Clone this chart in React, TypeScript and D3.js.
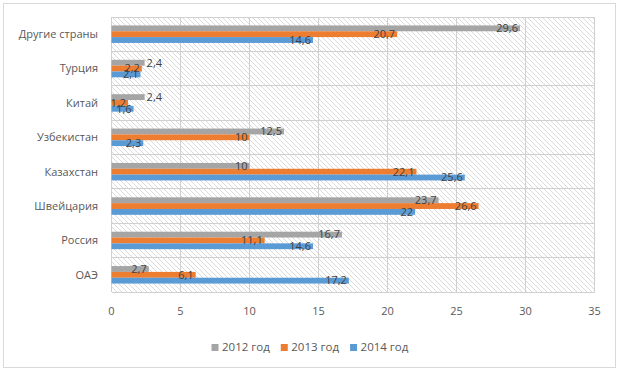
import React, { useEffect, useRef } from 'react';
import * as d3 from 'd3';

const categories = ['Другие страны', 'Турция', 'Китай', 'Узбекистан', 'Казахстан', 'Швейцария', 'Россия', 'ОАЭ'];
const seriesNames = ['2012 год', '2013 год', '2014 год'];
const values2012 = [29.6, 2.4, 2.4, 12.5, 10, 23.7, 16.7, 2.7];
const values2013 = [20.7, 2.2, 1.2, 10, 22.1, 26.6, 11.1, 6.1];
const values2014 = [14.6, 2.1, 1.6, 2.3, 25.6, 22, 14.6, 17.2];
const xTicks = [0, 5, 10, 15, 20, 25, 30, 35];

const colors = ['#a5a5a5', '#ed7d31', '#5b9bd5'];

export default function App() {
  const ref = useRef<SVGSVGElement>(null);

  useEffect(() => {
    const width = 619;
    const height = 372;
    const left = 111.5, right = 594.5, top = 17, bottom = 292;
    const font = '"Open Sans", "DejaVu Sans", sans-serif';

    const svg = d3.select(ref.current);
    svg.selectAll('*').remove();

    const x = d3.scaleLinear().domain([0, 35]).range([left, right]);
    const y = d3.scaleBand<string>().domain(categories).range([top, bottom]);
    const groupH = 17.5;
    const yInner = d3.scaleBand<string>().domain(seriesNames).range([0, groupH]);

    const allValues = [values2012, values2013, values2014];

    svg.append('rect')
      .attr('x', 0).attr('y', 0).attr('width', width).attr('height', height)
      .attr('fill', '#fff');
    // рамка диаграммы
    svg.append('rect')
      .attr('x', 3.5).attr('y', 3.5).attr('width', 612).attr('height', 364)
      .attr('fill', 'none').attr('stroke', '#d9d9d9');

    // штриховка области построения
    const defs = svg.append('defs');
    const pat = defs.append('pattern')
      .attr('id', 'hatch')
      .attr('patternUnits', 'userSpaceOnUse')
      .attr('width', 5).attr('height', 5);
    pat.append('path')
      .attr('d', 'M-1,-1 L6,6 M-1,4 L1,6 M4,-1 L6,1')
      .attr('stroke', '#d6d6d6').attr('stroke-width', 0.9);

    svg.append('rect')
      .attr('x', left).attr('y', top)
      .attr('width', right - left).attr('height', bottom - top)
      .attr('fill', 'url(#hatch)');

    // сетка
    const grid = svg.append('g').attr('stroke', '#d0d0d0').attr('shape-rendering', 'crispEdges');
    grid.selectAll('line.v')
      .data(xTicks)
      .enter().append('line')
        .attr('x1', d => x(d)).attr('x2', d => x(d))
        .attr('y1', top).attr('y2', bottom);
    const bounds = categories.map(c => y(c)!).concat([bottom]);
    grid.selectAll('line.h')
      .data(bounds)
      .enter().append('line')
        .attr('x1', left).attr('x2', right)
        .attr('y1', d => d).attr('y2', d => d);

    // столбцы
    const off = (y.bandwidth() - groupH) / 2;
    seriesNames.forEach((s, si) => {
      const vals = allValues[si];
      svg.append('g').selectAll('rect')
        .data(vals)
        .enter().append('rect')
          .attr('x', x(0))
          .attr('y', (d, i) => y(categories[i])! + off + yInner(s)!)
          .attr('width', d => x(d) - x(0))
          .attr('height', yInner.bandwidth())
          .attr('fill', colors[si]);
    });

    // подписи данных
    seriesNames.forEach((s, si) => {
      const vals = allValues[si];
      svg.append('g').selectAll('text')
        .data(vals)
        .enter().append('text')
          .attr('x', d => (si === 0 && d < 2.5) ? x(d) + 2 : x(d) - 2)
          .attr('y', (d, i) => y(categories[i])! + off + yInner(s)! + yInner.bandwidth() / 2)
          .attr('dy', '0.35em')
          .attr('text-anchor', d => (si === 0 && d < 2.5) ? 'start' : 'end')
          .attr('font-family', font)
          .attr('font-size', 11)
          .attr('fill', '#404040')
          .text(d => String(d).replace('.', ','));
    });

    // категории
    svg.append('g').selectAll('text')
      .data(categories)
      .enter().append('text')
        .attr('x', 98)
        .attr('y', d => y(d)! + y.bandwidth() / 2)
        .attr('dy', '0.35em')
        .attr('text-anchor', 'end')
        .attr('font-family', font)
        .attr('font-size', 11)
        .attr('fill', '#595959')
        .text(d => d);

    // ось X
    svg.append('g').selectAll('text')
      .data(xTicks)
      .enter().append('text')
        .attr('x', d => x(d))
        .attr('y', 315)
        .attr('text-anchor', 'middle')
        .attr('font-family', font)
        .attr('font-size', 11)
        .attr('fill', '#595959')
        .text(d => d);

    // легенда
    const legend = svg.append('g');
    let lx = 211.5;
    seriesNames.forEach((s, si) => {
      legend.append('rect')
        .attr('x', lx).attr('y', 344)
        .attr('width', 7).attr('height', 7)
        .attr('fill', colors[si]);
      const t = legend.append('text')
        .attr('x', lx + 10.5).attr('y', 351)
        .attr('font-family', font)
        .attr('font-size', 11.5)
        .attr('fill', '#595959')
        .text(s);
      const w = (t.node() as SVGTextElement).getComputedTextLength();
      lx += 10.5 + w + 11;
    });
  }, []);

  return (
    <svg ref={ref} width={619} height={372}
      style={{ position: 'absolute', left: 0, top: 0, display: 'block' }} />
  );
}
